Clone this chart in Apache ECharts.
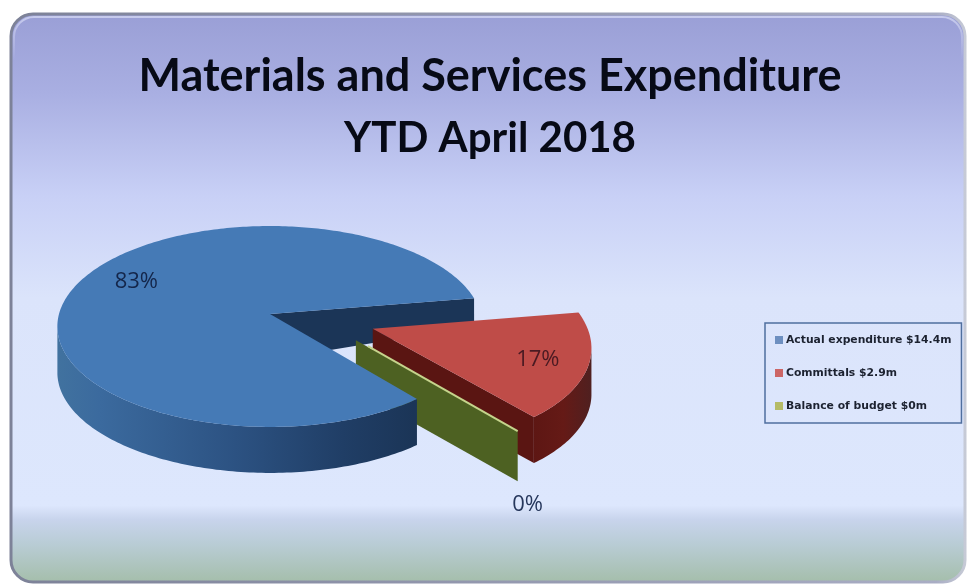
<!DOCTYPE html>
<html><head><meta charset="utf-8">
<style>html,body{margin:0;padding:0;background:#fff}#c{width:968px;height:585px}</style>
<script src="https://cdn.jsdelivr.net/npm/echarts@6/dist/echarts.min.js"></script>
</head><body><div id="c"></div>
<script>
var titleLines = ['Materials and Services Expenditure', 'YTD April 2018'];
var categories = ['Actual expenditure $14.4m', 'Committals $2.9m', 'Balance of budget $0m'];
var values = [14.4, 2.9, 0];
var percentLabels = ['83%', '17%', '0%'];

// layout of the tilted disc
var apex = [270, 314], scaleX = 211, scaleY = 98.9, persp = 0.124, depth = 46, startDeg = -51;
var explode = [0, 0.5, 0.47], explodeDir = [null, -17, -33];
var labelSpots = [[-0.66, 0.337], [1.2, -0.44], [0.985, -1.558]];

var chart = echarts.init(document.getElementById('c'), null, {renderer: 'canvas'});
var G = echarts.graphic.LinearGradient;
var total = values.reduce(function (a, b) { return a + b; }, 0);

function project(u, v) {
  var w = 1 + persp * v;
  return [apex[0] + scaleX * u / w, apex[1] - scaleY * v / w];
}
function down(p, d) { return [p[0], p[1] + (d === undefined ? depth : d)]; }

function slice(index, value) {
  var before = 0;
  for (var i = 0; i < index; i++) before += values[i];
  var a0 = startDeg - before / total * 360;
  var a1 = a0 - value / total * 360;
  var dir = (explodeDir[index] === null ? (a0 + a1) / 2 : explodeDir[index]) * Math.PI / 180;
  var ox = explode[index] * Math.cos(dir), oy = explode[index] * Math.sin(dir);
  var at = function (deg) {
    var r = deg * Math.PI / 180;
    return project(ox + Math.cos(r), oy + Math.sin(r));
  };
  var rim = [], visible = [];
  var n = Math.max(2, Math.ceil(Math.abs(a1 - a0)));
  for (var k = 0; k <= n; k++) {
    var d = a0 + (a1 - a0) * k / n;
    var p = at(d);
    rim.push(p);
    if (at(d - 0.5)[0] < p[0]) visible.push(p); // clockwise travel moving left = viewer-facing rim
  }
  return {apex: project(ox, oy), rim: rim, visible: visible, first: rim[0], last: rim[rim.length - 1]};
}
function poly(points, fill) {
  return {type: 'polygon', shape: {points: points}, style: {fill: fill}};
}
function band(points) {
  return points.concat(points.map(function (p) { return down(p); }).reverse());
}
function label(i, color) {
  var p = project(labelSpots[i][0], labelSpots[i][1]);
  return {type: 'text', style: {text: percentLabels[i], x: p[0], y: p[1], textAlign: 'center', textVerticalAlign: 'middle',
    fill: color, font: '22px "Open Sans", sans-serif'}};
}

function renderBack(params, api) {
  var s = slice(0, api.value(0));
  return {type: 'group', children: [
    poly([s.apex, s.last, down(s.last, 28), down(s.apex)], '#1b3557')
  ]};
}
function renderBlue(params, api) {
  var s = slice(0, api.value(0));
  return {type: 'group', children: [
    poly(band(s.visible), new G(57, 0, 414, 0, [
      {offset: 0, color: '#41729f'}, {offset: 0.12, color: '#3b6a9e'}, {offset: 0.5, color: '#2c5282'},
      {offset: 0.8, color: '#203e66'}, {offset: 1, color: '#1b3557'}], true)),
    poly([s.apex].concat(s.rim), '#457ab6'),
    label(0, '#14264a')
  ]};
}
function renderRed(params, api) {
  var s = slice(1, api.value(0));
  return {type: 'group', children: [
    poly(band(s.visible), new G(520, 0, 592, 0, [
      {offset: 0, color: '#5a1512'}, {offset: 0.6, color: '#651a16'}, {offset: 1, color: '#4f2020'}], true)),
    poly([s.apex, s.last, down(s.last), down(s.apex)], '#5a1512'),
    poly([s.apex].concat(s.rim), '#bf4c48'),
    label(1, '#4a1a22')
  ]};
}
function renderGreen(params, api) {
  var s = slice(2, api.value(0));
  return {type: 'group', children: [
    poly([s.apex, s.first, down(s.first, 50), down(s.apex, 50)], '#4d6122'),
    {type: 'line', shape: {x1: s.apex[0] + 12, y1: s.apex[1] + 6, x2: s.first[0], y2: s.first[1]},
      style: {stroke: '#c5d48c', lineWidth: 2}},
    label(2, '#26375c')
  ]};
}
function mark(name, z, fn) {
  return {type: 'custom', name: name, coordinateSystem: 'none', z: z, silent: true, animation: false,
    renderItem: fn, data: [[values[categories.indexOf(name)]]]};
}

chart.setOption({
  animation: false,
  title: {
    text: '{a|' + titleLines[0] + '}\n{b|' + titleLines[1] + '}', left: 485, top: 40, textAlign: 'center',
    textStyle: {rich: {
      a: {fontFamily: 'Lato', fontWeight: 'bold', fontSize: 45, lineHeight: 62, color: '#070a16'},
      b: {fontFamily: 'Lato', fontWeight: 'bold', fontSize: 42, lineHeight: 62, color: '#070a16'}
    }}
  },
  legend: {
    data: [
      {name: categories[0], itemStyle: {color: '#6d8fc0'}},
      {name: categories[1], itemStyle: {color: '#cc6666'}},
      {name: categories[2], itemStyle: {color: '#b5bb66'}}
    ],
    orient: 'vertical', left: 765, top: 323, padding: [10, 10, 10, 10], itemGap: 19,
    itemWidth: 8, itemHeight: 8, icon: 'rect', selectedMode: false,
    borderColor: '#4f6f9f', borderWidth: 1.5, align: 'left',
    textStyle: {fontFamily: '"DejaVu Sans"', fontWeight: 'bold', fontSize: 10.8, color: '#1c2230', padding: [0, 0, 0, -2], lineHeight: 14}
  },
  graphic: {elements: [{
    type: 'rect', z: -10, silent: true,
    shape: {x: 11, y: 14, width: 954, height: 568, r: 22},
    style: {
      fill: new G(0, 14, 0, 582, [
        {offset: 0, color: '#9a9fd6'}, {offset: 0.14, color: '#a9afe2'}, {offset: 0.32, color: '#c8d0f6'},
        {offset: 0.5, color: '#dbe4fb'}, {offset: 0.865, color: '#dde7fd'}, {offset: 0.89, color: '#c8d4ec'},
        {offset: 0.935, color: '#b8ccd4'}, {offset: 1, color: '#a5beab'}], true),
      stroke: new G(11, 0, 965, 0, [
        {offset: 0, color: '#7d8298'}, {offset: 0.97, color: '#a9adc4'}, {offset: 1, color: '#c6cad6'}], true),
      lineWidth: 3
    }
  }, {
    type: 'rect', z: -9, silent: true,
    shape: {x: 14, y: 17, width: 948, height: 562, r: 20},
    style: {fill: 'none', stroke: new G(0, 17, 0, 60, [
      {offset: 0, color: 'rgba(235,238,255,0.55)'}, {offset: 1, color: 'rgba(235,238,255,0)'}], true), lineWidth: 2}
  }]},
  series: [
    {type: 'custom', name: 'blue-inner-face', coordinateSystem: 'none', z: 1, silent: true, animation: false,
      renderItem: renderBack, data: [[values[0]]]},
    mark(categories[1], 2, renderRed),
    mark(categories[2], 3, renderGreen),
    mark(categories[0], 4, renderBlue)
  ]
});
</script></body></html>
